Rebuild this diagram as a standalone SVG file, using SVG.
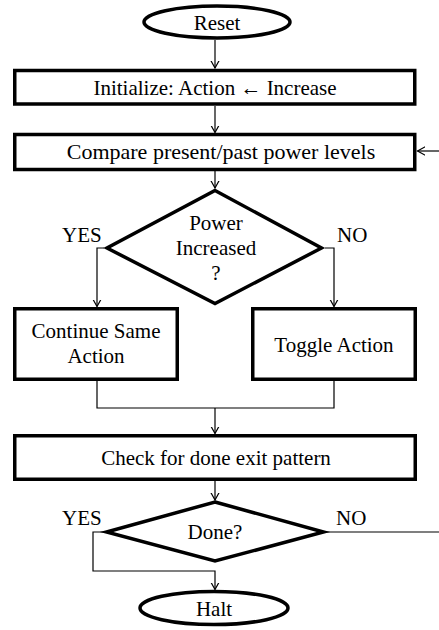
<svg xmlns="http://www.w3.org/2000/svg" width="439" height="630" viewBox="0 0 439 630">
  <style>
    .shape { fill: #ffffff; stroke: #000000; stroke-width: 3.5; stroke-linejoin: miter; }
    .label { text-anchor: middle; }
    .wire { fill: none; stroke: #000000; stroke-width: 1.2; }
  </style>
  <defs>
    <marker id="vhead" markerUnits="userSpaceOnUse" markerWidth="14" markerHeight="14" viewBox="-7 -7 14 14" refX="0" refY="0" orient="auto">
      <path d="M-9,-5 L0,0 L-9,5" fill="none" stroke="#000000" stroke-width="1.2"/>
    </marker>
  </defs>
  <rect width="439" height="630" fill="#ffffff"/>

  <!-- flow lines between the steps -->
  <g id="connectors">
    <line class="wire" x1="215" y1="40" x2="215" y2="68" marker-end="url(#vhead)"/>
    <line class="wire" x1="215" y1="106" x2="215" y2="132.5" marker-end="url(#vhead)"/>
    <line class="wire" x1="439" y1="151" x2="417.5" y2="151" marker-end="url(#vhead)"/>
    <line class="wire" x1="215" y1="171" x2="215" y2="188" marker-end="url(#vhead)"/>
    <polyline class="wire" points="104,248 97,248 97,306.5" marker-end="url(#vhead)"/>
    <polyline class="wire" points="325,248 334,248 334,306.5" marker-end="url(#vhead)"/>
    <polyline class="wire" points="97,381 97,408 334,408 334,381"/>
    <line class="wire" x1="215" y1="408" x2="215" y2="433.5" marker-end="url(#vhead)"/>
    <line class="wire" x1="215" y1="481" x2="215" y2="500" marker-end="url(#vhead)"/>
    <polyline class="wire" points="104,532 93,532 93,571 215,571 215,589.5" marker-end="url(#vhead)"/>
    <line class="wire" x1="326" y1="532" x2="439" y2="532"/>
  </g>

  <g font-family="Liberation Serif, DejaVu Serif, serif" font-size="21" fill="#000000">
    <g id="reset">
      <ellipse class="shape" cx="217" cy="22" rx="73" ry="16"/>
      <text class="label" x="217" y="30">Reset</text>
    </g>

    <g id="initialize">
      <rect class="shape" x="14.75" y="70.5" width="400" height="33.5"/>
      <text class="label" x="215" y="95">Initialize: Action ← Increase</text>
    </g>

    <g id="compare">
      <rect class="shape" x="14.75" y="134.5" width="400" height="35"/>
      <text class="label" x="221" y="159" font-size="22">Compare present/past power levels</text>
    </g>

    <g id="power-increased">
      <polygon class="shape" points="215,190.5 321.5,248 215,303.5 107,248"/>
      <text class="label" x="216" y="230">Power</text>
      <text class="label" x="216" y="255">Increased</text>
      <text class="label" x="216" y="280">?</text>
      <text x="62" y="242">YES</text>
      <text x="337" y="242">NO</text>
    </g>

    <g id="continue-same">
      <rect class="shape" x="14.75" y="308.75" width="162.5" height="70.5"/>
      <text class="label" x="96" y="338">Continue Same</text>
      <text class="label" x="96" y="363">Action</text>
    </g>

    <g id="toggle-action">
      <rect class="shape" x="252.75" y="308.75" width="162.5" height="70.5"/>
      <text class="label" x="334" y="352">Toggle Action</text>
    </g>

    <g id="check-done">
      <rect class="shape" x="14.75" y="435.75" width="400.5" height="43.5"/>
      <text class="label" x="216" y="465">Check for done exit pattern</text>
    </g>

    <g id="done">
      <polygon class="shape" points="215,502 323.5,532 215,561 106.5,532"/>
      <text class="label" x="215" y="539">Done?</text>
      <text x="62" y="525">YES</text>
      <text x="336" y="525">NO</text>
    </g>

    <g id="halt">
      <ellipse class="shape" cx="214" cy="608" rx="74" ry="16.5"/>
      <text class="label" x="214" y="616">Halt</text>
    </g>
  </g>
</svg>
